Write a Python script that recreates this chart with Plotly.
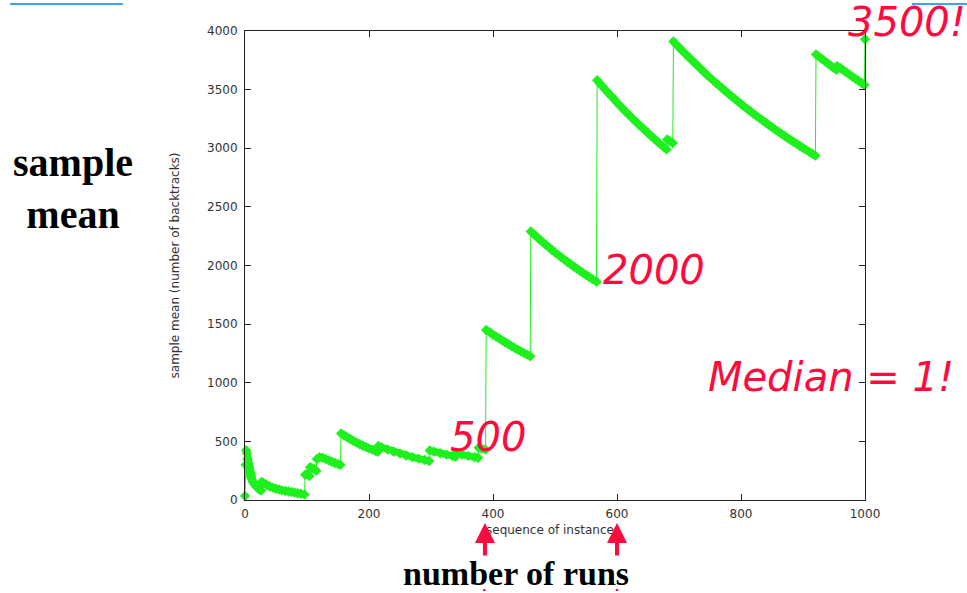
import plotly.graph_objects as go

# Running sample mean of backtrack counts over a sequence of instances
instances = [
    0, 1, 2, 3, 4, 5, 6, 7, 8, 9, 10, 12, 14, 16, 18, 20, 22, 24, 26,
    27, 30, 35, 40, 45, 50, 55, 60, 65, 70, 75, 80, 85, 90, 96,
    97, 100, 104,
    105, 108, 112, 115,
    116, 120, 125, 130, 135, 140, 145, 150, 154,
    155, 160, 165, 170, 175, 180, 185, 190, 195, 200, 205, 210, 214,
    215, 220, 230, 240, 250, 260, 270, 280, 290, 297,
    298, 305, 315, 325, 335, 339,
    340, 350, 360, 370, 376,
    377, 382, 388,
    389, 395, 400, 405, 410, 415, 420, 425, 430, 435, 440, 445, 450, 455, 460,
    461, 465, 470, 475, 480, 485, 490, 495, 500, 505, 510, 515, 520, 525, 530,
    535, 540, 545, 550, 555, 560, 567,
    568, 572, 576, 580, 585, 590, 595, 600, 605, 610, 615, 620, 625, 630, 635,
    640, 645, 650, 655, 660, 665, 670, 675, 680,
    681, 685, 690,
    691, 695, 700, 705, 710, 715, 720, 725, 730, 735, 740, 745, 750, 755, 760,
    765, 770, 775, 780, 785, 790, 795, 800, 805, 810, 815, 820, 825, 830, 835,
    840, 845, 850, 855, 860, 865, 870, 875, 880, 885, 890, 895, 900, 905, 910,
    915, 920,
    921, 925, 930, 935, 940, 945, 950, 954,
    955, 960, 965, 970, 975, 980, 985, 990, 995, 999,
    1000,
]
sample_mean = [
    35, 300, 425, 400, 350, 315, 285, 255, 230, 205, 185, 160, 145, 130, 115, 105, 95, 87, 80,
    155, 145, 128, 115, 105, 96, 89, 82, 77, 72, 68, 63, 58, 53, 46,
    215, 220, 205,
    280, 272, 262, 250,
    350, 365, 360, 350, 338, 326, 316, 306, 300,
    568, 550, 534, 518, 503, 489, 476, 463, 452, 440, 430, 419, 412,
    460, 450, 430, 412, 396, 380, 366, 353, 341, 333,
    422, 412, 399, 387, 375, 371,
    398, 387, 376, 366, 360,
    445, 438, 430,
    1450, 1428, 1410, 1393, 1376, 1359, 1343, 1327, 1312, 1297, 1282, 1268, 1253, 1240, 1226,
    2290, 2270, 2246, 2222, 2199, 2177, 2155, 2133, 2111, 2091, 2070, 2050, 2030, 2011, 1992,
    1973, 1955, 1937, 1919, 1902, 1885, 1862,
    3580, 3555, 3530, 3506, 3476, 3447, 3418, 3389, 3361, 3333, 3306, 3280, 3253, 3228, 3202,
    3177, 3153, 3128, 3105, 3081, 3058, 3035, 3012, 2990,
    3075, 3060, 3045,
    3910, 3888, 3860, 3832, 3805, 3779, 3753, 3727, 3701, 3676, 3651, 3627, 3602, 3579, 3555,
    3532, 3509, 3486, 3464, 3442, 3420, 3399, 3377, 3356, 3336, 3315, 3295, 3275, 3255, 3236,
    3217, 3197, 3179, 3160, 3142, 3124, 3106, 3088, 3070, 3053, 3036, 3019, 3002, 2986, 2969,
    2953, 2937,
    3800, 3784, 3763, 3743, 3723, 3704, 3684, 3669,
    3700, 3685, 3666, 3647, 3628, 3610, 3591, 3573, 3555, 3540,
    3930,
]

x_ticks = [0, 200, 400, 600, 800, 1000]
y_ticks = [0, 500, 1000, 1500, 2000, 2500, 3000, 3500, 4000]

GREEN = "#1ef01e"
RED = "#ff0a3c"
BLUE = "#3fa2ee"
AXIS = "#222222"

# Thick band follows each decaying stretch; break it wherever the mean jumps up
band_x, band_y = [], []
for i, (xv, yv) in enumerate(zip(instances, sample_mean)):
    if i > 0 and yv - sample_mean[i - 1] > 30:
        band_x.append(None)
        band_y.append(None)
    band_x.append(xv)
    band_y.append(yv)

fig = go.Figure()
# thin connector through every point (shows the vertical jumps)
fig.add_trace(go.Scatter(
    x=instances, y=sample_mean, mode="lines",
    line=dict(color=GREEN, width=1),
    cliponaxis=False, showlegend=False, hoverinfo="skip",
))
# thick point band
fig.add_trace(go.Scatter(
    x=band_x, y=band_y, mode="lines+markers",
    line=dict(color=GREEN, width=7),
    marker=dict(symbol="diamond", size=8, color=GREEN),
    connectgaps=False, cliponaxis=False, showlegend=False,
))

axis_common = dict(
    showline=True, linecolor=AXIS, linewidth=1, mirror="ticks",
    ticks="inside", ticklen=6, tickcolor=AXIS, tickwidth=1,
    showgrid=False, zeroline=False,
    tickfont=dict(family="DejaVu Sans", size=12, color="#333333"),
)

fig.update_layout(
    width=967, height=593,
    margin=dict(l=245, r=102, t=31, b=93),
    paper_bgcolor="white", plot_bgcolor="white",
    xaxis=dict(range=[0, 1000], tickvals=x_ticks, ticklabelstandoff=3, **axis_common),
    yaxis=dict(range=[0, 4000], tickvals=y_ticks, ticklabelstandoff=4, **axis_common),
)

small = dict(family="DejaVu Sans", size=12, color="#333333")
red_font = dict(family="DejaVu Sans", size=40, color=RED, style="italic")

annotations = [
    # axis titles
    dict(text="sample mean (number of backtracks)", xref="paper", yref="paper",
         x=-0.113, y=0.5, textangle=-90, showarrow=False, font=small,
         xanchor="center", yanchor="middle"),
    dict(text="sequence of instances", xref="paper", yref="paper",
         x=0.497, y=-0.064, showarrow=False, font=small,
         xanchor="center", yanchor="middle"),
    # callouts
    dict(text="500", xref="paper", yref="paper", x=0.392, y=0.134, showarrow=False,
         font=red_font, xanchor="center", yanchor="middle"),
    dict(text="2000", xref="paper", yref="paper", x=0.66, y=0.491, showarrow=False,
         font=red_font, xanchor="center", yanchor="middle"),
    dict(text="Median = 1!", xref="paper", yref="paper", x=0.945, y=0.262,
         showarrow=False, font=red_font, xanchor="center", yanchor="middle"),
    dict(text="3500!", xref="paper", yref="paper", x=1.068, y=1.019, showarrow=False,
         font=red_font, xanchor="center", yanchor="middle"),
    # slide labels
    dict(text="sample<br>mean", xref="paper", yref="paper", x=-0.277, y=0.665,
         showarrow=False, align="center", xanchor="center", yanchor="middle",
         font=dict(family="Liberation Serif", size=40, color="black", weight="bold")),
    dict(text="number of runs", xref="paper", yref="paper", x=0.437, y=-0.157,
         showarrow=False, xanchor="center", yanchor="middle",
         font=dict(family="Liberation Serif", size=34, color="black", weight="bold")),
]
# red arrows pointing at the run counts
for xa in (387, 600):
    annotations.append(dict(
        text="", xref="x", yref="paper", x=xa, y=-0.049,
        showarrow=True, ax=0, ay=34, arrowhead=2, arrowsize=1,
        arrowwidth=4, arrowcolor=RED,
    ))
fig.update_layout(annotations=annotations)

shapes = [
    dict(type="line", xref="paper", yref="paper", x0=-0.379, x1=-0.197,
         y0=1.0576, y1=1.0576, line=dict(color=BLUE, width=2)),
    dict(type="line", xref="paper", yref="paper", x0=1.0758, x1=1.17,
         y0=1.0576, y1=1.0576, line=dict(color=BLUE, width=2)),
]
for xa in (386, 600):
    shapes.append(dict(type="line", xref="x", yref="paper", x0=xa - 2, x1=xa + 2,
                       y0=-0.192, y1=-0.192, line=dict(color=RED, width=2)))
fig.update_layout(shapes=shapes)

fig.write_html("out.html")
